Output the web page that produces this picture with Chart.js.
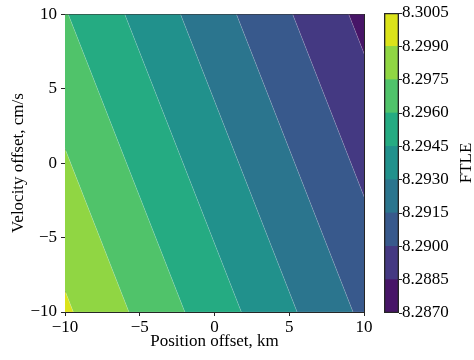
<!DOCTYPE html>
<html>
<head>
    <title>FTLE contour</title>
    <script src="https://cdn.jsdelivr.net/npm/chart.js"></script>
    <style>
        body { margin: 0; background: #fff; }
        #wrap { position: relative; width: 474px; height: 360px; }
        #wrap canvas { position: absolute; top: 0; }
        #contourChart { left: 0; }
        #barChart { left: 375px; }
    </style>
</head>
<body>
    <div id="wrap">
        <canvas id="contourChart" width="375" height="360"></canvas>
        <canvas id="barChart" width="99" height="360"></canvas>
    </div>
    <script>
        // contour levels (colorbar ticks) and fill colours (viridis)
        const levels = [8.2870, 8.2885, 8.2900, 8.2915, 8.2930, 8.2945, 8.2960, 8.2975, 8.2990, 8.3005];
        const bandColors = ['#471567', '#443982', '#38598c', '#2b758e', '#21918c',
                            '#25ab82', '#50c36a', '#90d643', '#dbe31a'];

        // contour lines for levels 8.2885 ... 8.2990:
        // x where each line meets y = +10 and y = -10 (straight lines, extended past the box)
        const contourTopX = [8.98, 5.23, 1.47, -2.27, -6.00, -9.78, -13.52, -17.24];
        const contourBottomX = [16.78, 13.03, 9.27, 5.53, 1.80, -1.98, -5.72, -9.44];

        const axisTicks = [-10, -5, 0, 5, 10];
        const yTop = 10, yBottom = -10;
        const farLeft = -40, farRight = 40;

        Chart.defaults.font.family = '"Liberation Serif", "Times New Roman", serif';
        Chart.defaults.font.size = 17;
        Chart.defaults.color = '#000';

        const frame = '#262626';
        const minus = v => v < 0 ? '\u2212' + Math.abs(v) : String(v);

        // one polygon per band, between two neighbouring contour lines
        const bands = bandColors.map((color, i) => {
            const lt = i < contourTopX.length ? contourTopX[i] : farLeft;
            const lb = i < contourBottomX.length ? contourBottomX[i] : farLeft;
            const rt = i > 0 ? contourTopX[i - 1] : farRight;
            const rb = i > 0 ? contourBottomX[i - 1] : farRight;
            return {
                label: levels[i].toFixed(4) + '-' + levels[i + 1].toFixed(4),
                data: [
                    { x: lt, y: yTop }, { x: rt, y: yTop },
                    { x: rb, y: yBottom }, { x: lb, y: yBottom },
                    { x: lt, y: yTop }
                ],
                showLine: true,
                fill: 'shape',
                backgroundColor: color,
                borderColor: 'rgba(255,255,255,0.22)',
                borderWidth: 0.6,
                pointRadius: 0,
                tension: 0,
                clip: 0
            };
        });

        const clipToArea = {
            id: 'clipToArea',
            beforeDatasetsDraw(chart) {
                const a = chart.chartArea;
                chart.ctx.save();
                chart.ctx.beginPath();
                chart.ctx.rect(a.left, a.top, a.right - a.left, a.bottom - a.top);
                chart.ctx.clip();
            },
            afterDatasetsDraw(chart) {
                chart.ctx.restore();
            }
        };

        new Chart(document.getElementById('contourChart'), {
            type: 'scatter',
            data: { datasets: bands },
            plugins: [clipToArea],
            options: {
                responsive: false,
                animation: false,
                layout: { padding: { top: 13, right: 11, left: 0, bottom: 0 } },
                plugins: { legend: { display: false }, tooltip: { enabled: false } },
                scales: {
                    x: {
                        type: 'linear', min: -10, max: 10, z: 1,
                        afterBuildTicks: s => { s.ticks = axisTicks.map(v => ({ value: v })); },
                        afterFit: s => { s.height = 48; },
                        ticks: { callback: minus, maxRotation: 0, padding: 1 },
                        grid: { drawOnChartArea: false, tickLength: 4, color: frame },
                        border: { display: true, color: frame, width: 1 },
                        title: { display: true, text: 'Position offset, km', padding: { top: 0, bottom: 8 } }
                    },
                    y: {
                        type: 'linear', min: -10, max: 10, z: 1,
                        afterBuildTicks: s => { s.ticks = axisTicks.map(v => ({ value: v })); },
                        afterFit: s => { s.width = 65; },
                        ticks: { callback: minus, padding: 4 },
                        grid: { drawOnChartArea: false, tickLength: 4, color: frame },
                        border: { display: true, color: frame, width: 1 },
                        title: { display: true, text: 'Velocity offset, cm/s', padding: { top: 8, bottom: 0 } }
                    },
                    x2: {
                        type: 'linear', position: 'top', min: -10, max: 10, z: 1,
                        afterFit: s => { s.height = 0; },
                        ticks: { display: false },
                        grid: { display: false },
                        border: { display: true, color: frame, width: 1 }
                    },
                    y2: {
                        type: 'linear', position: 'right', min: -10, max: 10, z: 1,
                        afterFit: s => { s.width = 0; },
                        ticks: { display: false },
                        grid: { display: false },
                        border: { display: true, color: frame, width: 1 }
                    }
                }
            }
        });

        // colorbar: one floating bar per band, outline drawn on top
        const barSets = [{
            label: 'outline',
            data: [[levels[0], levels[levels.length - 1]]],
            backgroundColor: 'rgba(0,0,0,0)',
            borderColor: frame,
            borderWidth: 1,
            borderSkipped: false
        }].concat(bandColors.map((color, i) => ({
            label: levels[i].toFixed(4),
            data: [[levels[i], levels[i + 1]]],
            backgroundColor: color,
            borderWidth: 0
        })));

        const ftleTitle = {
            id: 'ftleTitle',
            afterDraw(chart) {
                const ctx = chart.ctx;
                const a = chart.chartArea;
                ctx.save();
                ctx.translate(92, (a.top + a.bottom) / 2);
                ctx.rotate(-Math.PI / 2);
                ctx.font = '17px "Liberation Serif", "Times New Roman", serif';
                ctx.fillStyle = '#000';
                ctx.textAlign = 'center';
                ctx.textBaseline = 'middle';
                ctx.fillText('FTLE', 0, 0);
                ctx.restore();
            }
        };

        new Chart(document.getElementById('barChart'), {
            type: 'bar',
            data: { labels: ['FTLE'], datasets: barSets },
            plugins: [ftleTitle],
            options: {
                responsive: false,
                animation: false,
                layout: { padding: { top: 13, right: 0, left: 9, bottom: 47 } },
                plugins: { legend: { display: false }, tooltip: { enabled: false } },
                datasets: { bar: { grouped: false, barPercentage: 1, categoryPercentage: 1 } },
                scales: {
                    x: { display: false },
                    y: {
                        position: 'right', min: levels[0], max: levels[levels.length - 1],
                        afterBuildTicks: s => { s.ticks = levels.map(v => ({ value: v })); },
                        afterFit: s => { s.width = 75; },
                        ticks: { callback: v => v.toFixed(4), padding: 0 },
                        grid: { drawOnChartArea: false, tickLength: 3, color: frame },
                        border: { display: false }
                    }
                }
            }
        });
    </script>
</body>
</html>
